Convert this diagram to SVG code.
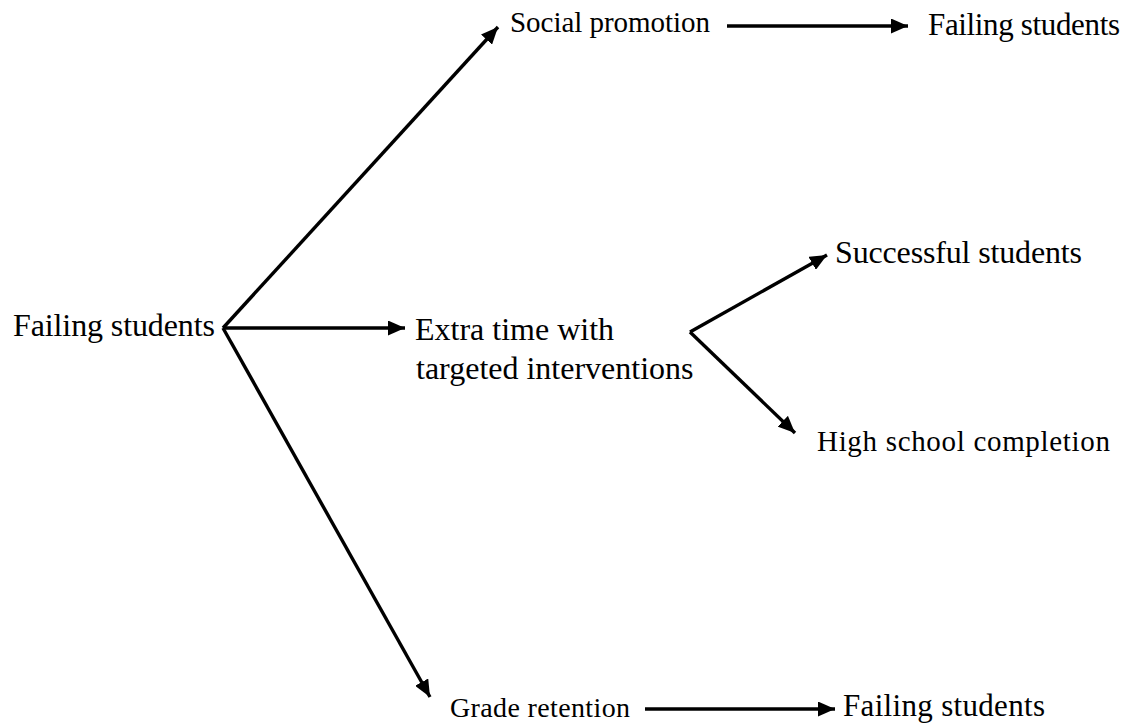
<svg xmlns="http://www.w3.org/2000/svg" width="1139" height="724" viewBox="0 0 1139 724">
<style>
.t{fill:#000}
.c{stroke:#000;stroke-width:3.4;fill:none}
</style>
<defs>
<marker id="ah" markerUnits="userSpaceOnUse" viewBox="0 0 17 15" refX="17" refY="7.5" markerWidth="17" markerHeight="15" orient="auto">
<path d="M0,0 L17,7.5 L0,15 Z" fill="#000"/>
</marker>
</defs>
<rect width="1139" height="724" fill="#fff"/>
<g id="connectors">
<line class="c" x1="223" y1="328" x2="498" y2="27" marker-end="url(#ah)"/>
<line class="c" x1="223" y1="328" x2="405" y2="328" marker-end="url(#ah)"/>
<line class="c" x1="223" y1="328" x2="430" y2="697" marker-end="url(#ah)"/>
<line class="c" x1="727" y1="26" x2="908" y2="26" marker-end="url(#ah)"/>
<line class="c" x1="690" y1="332" x2="827" y2="255" marker-end="url(#ah)"/>
<line class="c" x1="690" y1="332" x2="795" y2="433" marker-end="url(#ah)"/>
<line class="c" x1="645" y1="709" x2="835" y2="709" marker-end="url(#ah)"/>
</g>
<g font-family="Liberation Serif, Times New Roman, DejaVu Serif, serif">
<g id="n-failing"><text class="t" x="13" y="336" font-size="32" textLength="202">Failing students</text></g>
<g id="n-social"><text class="t" x="510" y="32" font-size="29" textLength="200">Social promotion</text></g>
<g id="n-failing-top"><text class="t" x="928" y="35" font-size="31" textLength="192">Failing students</text></g>
<g id="n-extra"><text class="t" font-size="32"><tspan x="415" y="340">Extra time with</tspan><tspan x="416" y="379">targeted interventions</tspan></text></g>
<g id="n-successful"><text class="t" x="835" y="263" font-size="32" textLength="247">Successful students</text></g>
<g id="n-highschool"><text class="t" x="817" y="451" font-size="29" textLength="293">High school completion</text></g>
<g id="n-grade"><text class="t" x="450" y="717" font-size="28" textLength="180">Grade retention</text></g>
<g id="n-failing-bottom"><text class="t" x="843" y="716" font-size="31" textLength="202">Failing students</text></g>
</g>
</svg>
